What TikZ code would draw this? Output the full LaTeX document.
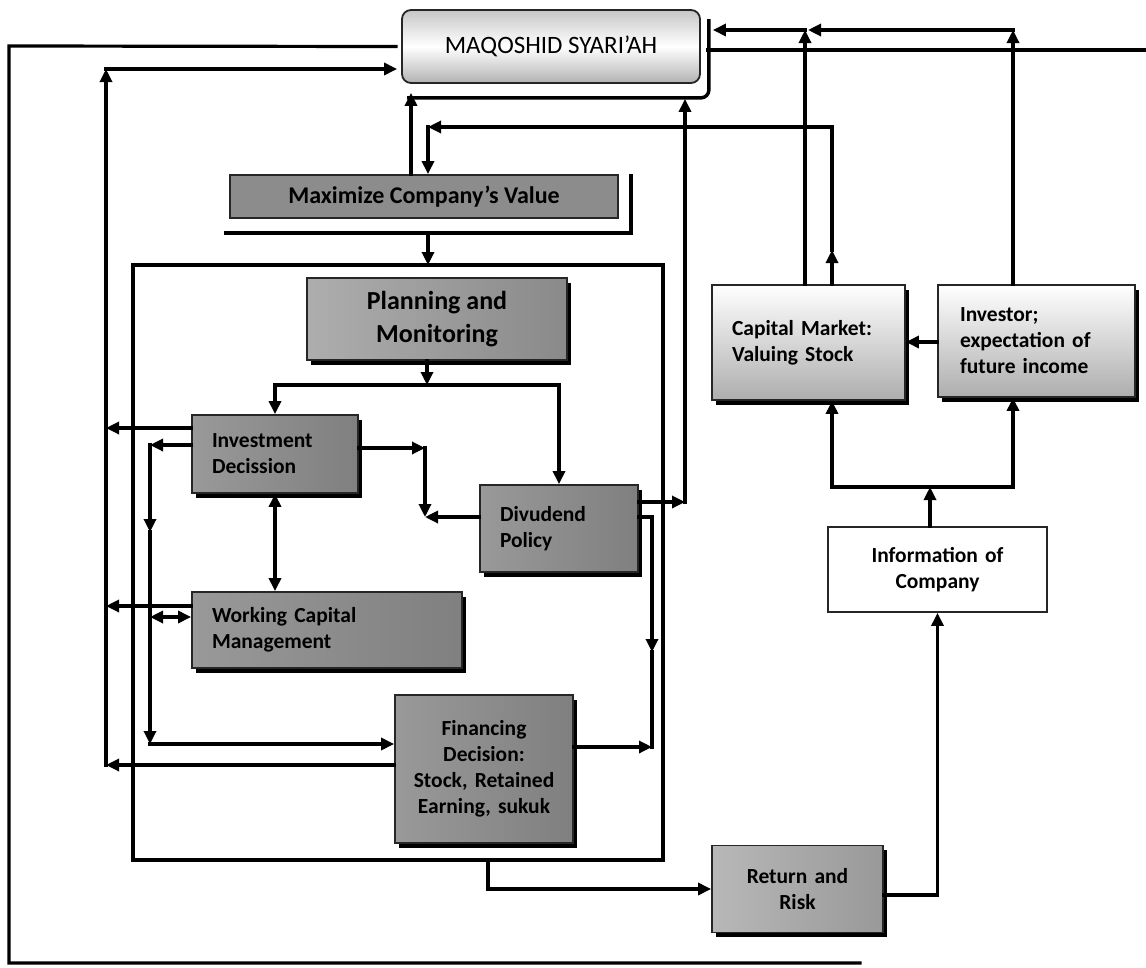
\documentclass[tikz,border=0pt]{standalone}
\usepackage{fontspec}
\setmainfont{Carlito}
\usetikzlibrary{arrows.meta,shadows}

\tikzset{
  wire/.style={line width=3.2pt, line cap=rect},
  conn/.style={wire, -{Triangle[length=13pt,width=12pt]}},
  twoway/.style={wire, {Triangle[length=13pt,width=12pt]}-{Triangle[length=13pt,width=12pt]}},
  basebox/.style={draw=black!85, line width=1.8pt, inner sep=0pt,
    font=\bfseries\fontsize{21.5}{26}\selectfont},
  darkbox/.style={basebox, left color=black!40, right color=black!50,
    drop shadow={shadow xshift=3.5pt, shadow yshift=-4.5pt, fill=black, opacity=1}},
  lightbox/.style={basebox, top color=white, bottom color=black!32,
    drop shadow={shadow xshift=3.5pt, shadow yshift=-4.5pt, fill=black, opacity=1}},
  plainbox/.style={basebox, fill=white},
  leftbox/.style={align=left},
}

\begin{document}
\begin{tikzpicture}[x=1pt, y=-1pt]
  \path[use as bounding box, fill=white] (0,0) rectangle (1146,967);

  %% frame round the company decisions
  \node[draw, line width=3.2pt, minimum width=530pt, minimum height=595pt, inner sep=0pt] (frame) at (398,562.5) {};

  %% boxes
  \node[basebox, rounded corners=9pt, top color=black!22, bottom color=black!30, middle color=white,
        font=\fontsize{25}{30}\selectfont, minimum width=298pt, minimum height=73pt] (maq) at (551,46.5) {MAQOSHID SYARI’AH};
  \node[basebox, fill=black!45, font=\bfseries\fontsize{24}{28}\selectfont,
        minimum width=388pt, minimum height=43pt] (maxv) at (424,196.5) {Maximize Company’s Value};
  \node[darkbox, left color=black!32, right color=black!46, align=center, font=\bfseries\fontsize{26}{33}\selectfont,
        minimum width=260pt, minimum height=82pt] (plan) at (437,319) {Planning and\\Monitoring};
  \node[darkbox, leftbox, text width=126pt, minimum width=166pt, minimum height=78pt] (inv) at (275,454) {Investment\\Decission};
  \node[darkbox, leftbox, text width=118pt, minimum width=158pt, minimum height=87pt] (div) at (559,528.5) {Divudend\\Policy};
  \node[darkbox, leftbox, text width=230pt, minimum width=270pt, minimum height=76pt] (wcm) at (327,630) {Working Capital\\Management};
  \node[darkbox, align=center, text width=170pt, minimum width=178pt, minimum height=148pt] (fin) at (484,769) {Financing\\Decision:\\Stock, Retained\\Earning, sukuk\\[8pt]};
  \node[darkbox, left color=black!28, right color=black!40, align=center, text width=160pt,
        minimum width=171pt, minimum height=87pt] (ret) at (797.5,889) {Return and\\Risk};
  \node[lightbox, leftbox, text width=153pt, minimum width=193pt, minimum height=115pt] (cap) at (808.5,342.5) {Capital Market:\\Valuing Stock\\[6pt]};
  \node[lightbox, leftbox, text width=153pt, minimum width=197pt, minimum height=112pt] (invr) at (1036.5,341) {Investor;\\expectation of\\future income};
  \node[plainbox, align=center, text width=200pt, minimum width=219pt, minimum height=85pt] (info) at (937.5,569.5) {Information of\\Company};

  %% shadows that stand apart
  \draw[line width=3.5pt, rounded corners=8pt] ([xshift=6pt,yshift=-14pt]maq.south west) -- ([xshift=8pt,yshift=-14pt]maq.south east) -- ([xshift=8pt,yshift=-10pt]maq.north east);
  \draw[line width=3.5pt] ([xshift=-5pt,yshift=-14pt]maxv.south west) -- ([xshift=12pt,yshift=-14pt]maxv.south east) -- ([xshift=12pt]maxv.north east);

  %% bend points
  \coordinate (olt) at (9,46);
  \coordinate (olb) at (9,963);
  \coordinate (orb) at (860,963);
  \coordinate (ort) at (1146,50);
  \coordinate (maqsh) at (708,97);
  \coordinate (busT) at (106,69);
  \coordinate (busL) at (106,765);
  \coordinate (busM) at (150,744);
  \coordinate (split) at (427,385);
  \coordinate (ic) at (425,517);
  \coordinate (dv1) at (685,502);
  \coordinate (dv2) at (652,747);
  \coordinate (topin) at (428,265);
  \coordinate (maxin) at (428,127);
  \coordinate (cm1) at (805,30);
  \coordinate (cm2) at (832,127);
  \coordinate (iv1) at (1013,30);
  \coordinate (ij) at (930,487);

  %% outer loop
  \draw[wire] ([xshift=-5pt]maq.west) -- (olt) -- (olb) -- (orb);
  \draw[wire] (maqsh |- ort) -- (ort);

  %% left bus back to maqoshid
  \draw[conn] (inv.west |- 0,428) -- (busL |- 0,428);
  \draw[conn] (wcm.west |- 0,606) -- (busL |- 0,606);
  \draw[conn] (fin.west |- busL) -- (busL);
  \draw[conn] (busL) -- (busT);
  \draw[conn, shorten >=4pt] (busT) -- (maq.west |- busT);

  %% inner bus
  \draw[conn] (inv.west |- 0,445) -- (busM |- 0,445);
  \draw[conn] (busM |- 0,445) -- (busM |- 0,532);
  \draw[conn] (busM |- 0,532) -- (busM);
  \draw[conn] (busM) -- (fin.west |- busM);
  \draw[twoway] (busM |- 0,617) -- (wcm.west |- 0,617);
  \draw[twoway] (inv.south) -- (inv.south |- wcm.north);

  %% top part
  \draw[conn, shorten >=9pt] (maxv.north -| 411,0) -- (maq.south -| 411,0);
  \draw[conn] (topin |- 0,234) -- (topin);
  \draw[conn] (plan.south -| split) -- (split);
  \draw[conn] (split) -| (inv.north);
  \draw[conn] (split) -| (div.north);

  %% investment and dividend
  \draw[conn] (inv.east |- 0,448) -- (ic |- 0,448);
  \draw[conn] (ic |- 0,448) -- (ic);
  \draw[conn] (div.west |- ic) -- (ic);
  \draw[conn] (div.east |- dv1) -- (dv1);
  \draw[conn, shorten >=15pt] (dv1) -- (dv1 |- maq.south);
  \draw[conn] (div.east |- 0,517) -| (dv2 |- 0,652);
  \draw[wire] (dv2 |- 0,652) -- (dv2);
  \draw[conn] (fin.east |- dv2) -- (dv2);

  %% market side
  \draw[conn] (cap.north -| cm2) -- (cm2 |- 0,250);
  \draw[wire] (cm2 |- 0,250) -- (cm2);
  \draw[conn] (cm2) -- (maxin);
  \draw[conn] (maxin) -- (maxin |- maxv.north);
  \draw[conn] (cap.north -| cm1) -- (cm1);
  \draw[conn, shorten >=12pt] (cm1) -- (maq.east |- cm1);
  \draw[conn] (invr.north -| iv1) -- (iv1);
  \draw[conn] (iv1) -- ([xshift=3pt]cm1);
  \draw[conn] (invr.west |- 0,342) -- (cap.east |- 0,342);
  \draw[conn] (info.north -| ij) -- (ij);
  \draw[conn] (ij) -| (cap.south -| cm2);
  \draw[conn] (ij) -| (invr.south -| iv1);

  %% results
  \draw[conn] (frame.south -| 488,0) |- (ret.west);
  \draw[conn] ([yshift=-6pt]ret.east) -| (info.south);
\end{tikzpicture}
\end{document}
